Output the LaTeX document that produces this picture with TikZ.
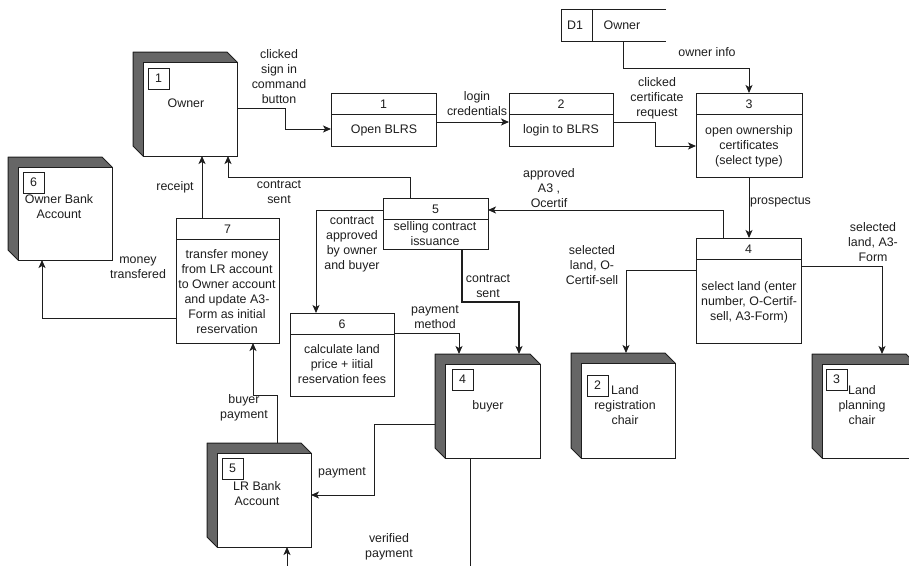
\documentclass[tikz,border=0pt]{standalone}
\usepackage{fontspec}
\setmainfont{Liberation Sans}
\usetikzlibrary{arrows.meta,calc}
\definecolor{sidegray}{RGB}{102,102,102}
\definecolor{ink}{RGB}{30,30,30}
\tikzset{
  lbl/.style={font=\fontsize{12.4}{15}\selectfont, text=ink, align=center, inner sep=0pt},
  flow/.style={draw=ink, line width=1pt, -{Stealth[length=8pt,width=7pt,inset=2pt]}},
  plain/.style={draw=ink, line width=1pt},
  procbox/.style={draw=ink, line width=1pt, fill=white, inner sep=0pt, outer sep=0pt},
  numbox/.style={draw=ink, line width=1pt, fill=white, minimum width=21pt, minimum height=21pt, inner sep=0pt, font=\fontsize{12.4}{15}\selectfont, text=ink},
}
% entity: name, x1, y1, x2, y2, number, box-x, box-y
\newcommand\entityshape[8]{%
  \node[inner sep=0pt, outer sep=0pt, minimum width={#4-#2}, minimum height={#5-#3}] (#1) at ({(#2+#4)/2},{(#3+#5)/2}) {};
  \filldraw[fill=sidegray, draw=ink, line width=1pt, line join=round] (#2,#3) -- ({#4-10},#3) -- (#4,{#3+10}) -- (#4,#5) -- ({#2+10},#5) -- (#2,{#5-10}) -- cycle;
  \filldraw[fill=white, draw=ink, line width=1pt] ({#2+10},{#3+10}) rectangle (#4,#5);
  \node[numbox] (#1n) at ({#7+10.5},{#8+10.5}) {#6};
}
% process: name, x1, y1, x2, y2, number
\newcommand\procshape[6]{%
  \node[procbox, minimum width={#4-#2}, minimum height={#5-#3}] (#1) at ({(#2+#4)/2},{(#3+#5)/2}) {};
  \draw[plain] (#2,{#3+21}) -- (#4,{#3+21});
  \node[lbl] (#1n) at ({(#2+#4)/2},{#3+11}) {#6};
}
\begin{document}
\begin{tikzpicture}[x=1pt,y=-1pt]
\useasboundingbox (0,0) rectangle (909,565);
\clip (0,0) rectangle (909,565);
\fill[white] (0,0) rectangle (909,565);

% ---------- entities ----------
\entityshape{owner}{133}{52}{237}{156}{1}{148}{68}
\node[lbl] (ownert) at (186,103) {Owner};
\entityshape{ownerbank}{8}{157}{112}{260}{6}{23}{172}
\node[lbl] (ownerbankt) at (59,207) {Owner Bank\\Account};
\entityshape{lrbank}{207}{443}{311}{547}{5}{222}{458}
\node[lbl] (lrbankt) at (257,494) {LR Bank\\Account};
\entityshape{buyer}{435}{354}{540}{458}{4}{452}{369}
\node[lbl] (buyert) at (488,406) {buyer};
\entityshape{landreg}{571}{353}{675}{458}{2}{587}{375}
\node[lbl] (landregt) at (625,405) {Land\\registration\\chair};
\entityshape{landplan}{812}{354}{916}{458}{3}{826}{369}
\node[lbl] (landplant) at (862,405) {Land\\planning\\chair};

% ---------- data store ----------
\node[inner sep=0pt, outer sep=0pt, minimum width=105pt, minimum height=32pt] (d1) at (613.5,25) {};
\draw[plain] (666,9) -- (561,9) -- (561,41) -- (666,41);
\draw[plain] (592,9) -- (592,41);
\node[lbl] (d1n) at (575,25) {D1};
\node[lbl] (d1t) at (622,25) {Owner};

% ---------- processes ----------
\procshape{p1}{331}{93}{436}{146}{1}
\node[lbl] (p1t) at (384,130) {Open BLRS};
\procshape{p2}{509}{93}{613}{146}{2}
\node[lbl] (p2t) at (561,130) {login to BLRS};
\procshape{p3}{696}{93}{802}{177}{3}
\node[lbl] (p3t) at (749,146) {open ownership\\certificates\\(select type)};
\procshape{p4}{696}{238}{801}{343}{4}
\node[lbl] (p4t) at (749,302) {select land (enter\\number, O-Certif-\\sell, A3-Form)};
\procshape{p5}{383}{198}{488}{249}{5}
\node[lbl] (p5t) at (435,234) {selling contract\\issuance};
\procshape{p6}{290}{313}{394}{396}{6}
\node[lbl] (p6t) at (342,364) {calculate land\\price + iitial\\reservation fees};
\procshape{p7}{176}{218}{279}{343}{7}
\node[lbl] (p7t) at (227,292) {transfer money\\from LR account\\to Owner account\\and update A3-\\Form as initial\\reservation};

% ---------- connectors ----------
\draw[flow] (owner.east |- 0,108) -- (285,108) -- (285,129) -- (p1.west |- 0,129);
\node[lbl] (l1) at (279,77) {clicked\\sign in\\command\\button};

\draw[flow] (p1.east |- 0,122) -- (p2.west |- 0,122);
\node[lbl] (l2) at (477,104) {login\\credentials};

\draw[flow] (p2.east |- 0,122) -- (655,122) -- (655,146) -- (p3.west |- 0,146);
\node[lbl] (l3) at (657,98) {clicked\\certificate\\request};

\draw[flow] (d1.south -| 623,0) -- (623,68) -- (749,68) -- (p3.north -| 749,0);
\node[lbl] (l4) at (707,52) {owner info};

\draw[flow] (p3.south -| 749,0) -- (p4.north -| 749,0);
\node[lbl, anchor=west] (l5) at (750,202) {prospectus};

\draw[flow] (p4.north -| 723,0) -- (723,210) -- (p5.east |- 0,210);
\node[lbl] (l6) at (549,188) {approved\\A3 ,\\Ocertif};

\draw[flow] (p5.north -| 410,0) -- (410,177) -- (228,177) -- (owner.south -| 228,0);
\node[lbl] (l7) at (279,192) {contract\\sent};

\draw[flow] (p7.north -| 202,0) -- (owner.south -| 202,0);
\node[lbl] (l8) at (175,187) {receipt};

\draw[flow] (p5.west |- 0,210) -- (316,210) -- (p6.north -| 316,0);
\node[lbl] (l9) at (352,244) {contract\\approved\\by owner\\and buyer};

\draw[flow, line width=1.6pt] (p5.south -| 462,0) -- (462,302) -- (519,302) -- (buyer.north -| 519,0);
\node[lbl] (l10) at (488,286) {contract\\sent};

\draw[flow] (p6.east |- 0,333) -- (459,333) -- (buyer.north -| 459,0);
\node[lbl] (l11) at (435,317) {payment\\method};

\draw[flow] (p7.west |- 0,318) -- (42,318) -- (ownerbank.south -| 42,0);
\node[lbl] (l12) at (138,268) {money\\transfered};

\draw[flow] (lrbank.north -| 277,0) -- (277,395) -- (253,395) -- (p7.south -| 253,0);
\node[lbl] (l13) at (244,408) {buyer\\payment};

\draw[flow] (buyer.west |- 0,424) -- (374,424) -- (374,495) -- (lrbank.east |- 0,495);
\node[lbl] (l14) at (342,473) {payment};

\coordinate (vpa) at (470,570);
\coordinate (vpb) at (287,570);
\draw[plain] (buyer.south -| 470,0) -- (vpa);
\draw[flow] (vpb) -- (lrbank.south -| 287,0);
\node[lbl] (l15) at (389,547) {verified\\payment};

\draw[flow] (p4.west |- 0,270) -- (626,270) -- (landreg.north -| 626,0);
\node[lbl] (l16) at (592,265) {selected\\land, O-\\Certif-sell};

\draw[flow] (p4.east |- 0,266) -- (882,266) -- (landplan.north -| 882,0);
\node[lbl] (l17) at (873,242) {selected\\land, A3-\\Form};
\end{tikzpicture}
\end{document}
